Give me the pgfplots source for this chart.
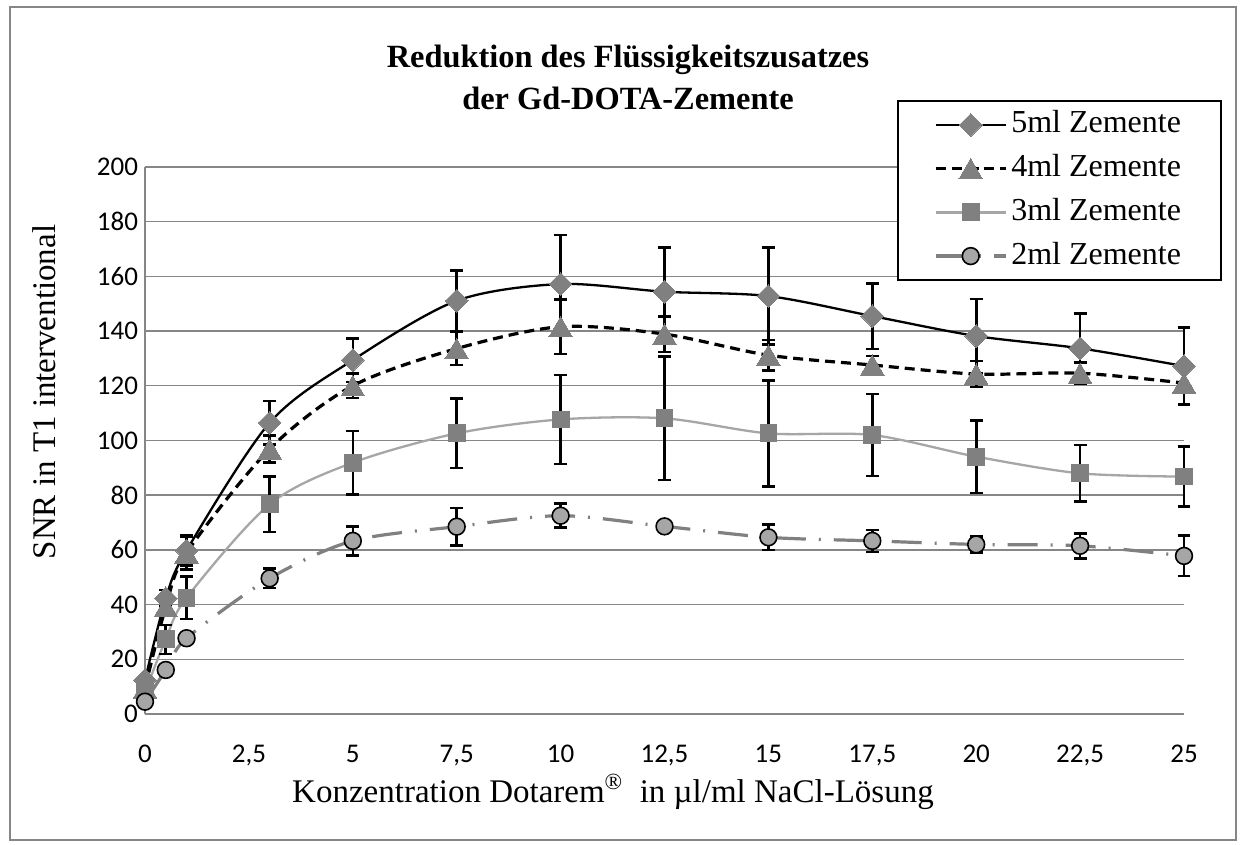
\documentclass[border=0pt]{standalone}
\usepackage{fontspec}
\setmainfont{Liberation Serif}
\newfontfamily\calibri{Carlito}
\usepackage{pgfplots}
\pgfplotsset{compat=1.18}
\usepackage{pgfplotstable}
\definecolor{gridgray}{RGB}{134,134,134}
\definecolor{mgray}{RGB}{128,128,128}
\definecolor{lgray}{RGB}{166,166,166}
\definecolor{cgray}{RGB}{166,166,166}

\pgfplotstableread{
x y e
0 12.4 0
0.5 42.3 3
1 59.8 5.5
3 106.5 8
5 129.4 8
7.5 151.1 11
10 157.2 18
12.5 154.4 16.2
15 152.8 17.8
17.5 145.5 12
20 138.2 13.5
22.5 133.7 12.8
25 127.2 14.2
}\tfive
\pgfplotstableread{
x y e
0 9.5 0
0.5 39.2 2.5
1 58.9 6
3 96.9 5
5 120 4.5
7.5 133.6 6
10 141.6 10
12.5 138.9 6.5
15 131.2 5.5
17.5 127.6 3.3
20 124.3 4.8
22.5 124.6 4
25 121 7.7
}\tfour
\pgfplotstableread{
x y e
0 8 0
0.5 27.3 5.3
1 42.5 7.8
3 76.7 10.1
5 91.9 11.6
7.5 102.6 12.7
10 107.7 16.3
12.5 108.1 22.6
15 102.6 19.4
17.5 102 15
20 94.1 13.3
22.5 88 10.4
25 86.8 11
}\tthree
\pgfplotstableread{
x y e
0 4.5 0
0.5 16.1 1
1 27.7 1.5
3 49.6 3.5
5 63.3 5.3
7.5 68.5 6.8
10 72.5 4.4
12.5 68.6 2
15 64.6 4.7
17.5 63.3 4
20 62 3
22.5 61.5 4.6
25 57.8 7.4
}\ttwo

\begin{document}
\begin{tikzpicture}
\path[fill=white] (-72.5pt,-65.5pt) rectangle (548.5pt,357pt);
\draw[gridgray, line width=0.9pt] (-67.5pt,-63pt) rectangle (545.5pt,353.5pt);
\begin{axis}[
  at={(0pt,0pt)}, anchor=south west,
  scale only axis, width=519.5pt, height=273.5pt,
  xmin=0, xmax=25, ymin=0, ymax=200,
  xtick={0,2.5,5,7.5,10,12.5,15,17.5,20,22.5,25},
  ytick={0,20,40,60,80,100,120,140,160,180,200},
  axis lines=left,
  axis line style={gridgray, line width=0.7pt, -},
  ymajorgrids,
  major grid style={gridgray, line width=0.7pt},
  major tick length=0pt,
  ticklabel style={font=\calibri\fontsize{13.5}{16}\selectfont},
  /pgf/number format/assume math mode=true,
  /pgf/number format/use comma,
  /pgf/number format/fixed,
  xticklabel style={yshift=-12pt},
  clip=false,
  legend style={at={(1.0366,1.1225)}, anchor=north east, draw=black, line width=1pt, fill=white,
    font=\fontsize{16}{19}\selectfont, inner xsep=18pt, inner ysep=3pt, row sep=3.85pt,
    nodes={inner sep=2pt, text height=11pt, text depth=3pt}},
  legend cell align=left,
  legend image code/.code={\draw[mark repeat=2,mark phase=2,#1] plot coordinates {(0pt,0pt) (17.5pt,0pt) (35pt,0pt)};},
  error bars/error bar style={black, line width=1.3pt, solid},
  error bars/error mark options={rotate=90, black, mark size=3.2pt, line width=1.3pt, solid},
]
\addplot[black, line width=1.15pt, smooth, mark=square*, mark size=4pt,
  mark options={rotate=45, fill=mgray, draw=mgray, line width=0pt, solid},
  error bars/.cd, y dir=both, y explicit]
  table[x=x, y=y, y error=e] {\tfive};
\addplot[black, line width=1.6pt, dash pattern=on 5pt off 3pt, smooth, mark=triangle*, mark size=6.8pt,
  mark options={fill=mgray, draw=mgray, line width=0pt, solid, yshift=-1.7pt},
  error bars/.cd, y dir=both, y explicit]
  table[x=x, y=y, y error=e] {\tfour};
\addplot[lgray, line width=1.15pt, smooth, mark=square*, mark size=4.2pt,
  mark options={fill=mgray, draw=mgray, line width=0pt, solid},
  error bars/.cd, y dir=both, y explicit]
  table[x=x, y=y, y error=e] {\tthree};
\addplot[mgray, line width=1.6pt, dash pattern=on 15pt off 6.5pt on 1pt off 6.5pt, smooth, mark=*, mark size=4.2pt,
  mark options={fill=cgray, draw=black, line width=0.8pt, solid},
  error bars/.cd, y dir=both, y explicit]
  table[x=x, y=y, y error=e] {\ttwo};
\legend{5ml Zemente, 4ml Zemente, 3ml Zemente, 2ml Zemente}
\end{axis}
\node[anchor=base, font=\bfseries\fontsize{16.2}{20}\selectfont] at (241.5pt,323pt) {Reduktion des Flüssigkeitszusatzes};
\node[anchor=base, font=\bfseries\fontsize{16.2}{20}\selectfont] at (241.5pt,302pt) {der Gd-DOTA-Zemente};
\node[rotate=90, font=\fontsize{16.5}{20}\selectfont] at (-50.5pt,161pt) {SNR in T1 interventional};
\node[font=\fontsize{16.5}{20}\selectfont] at (234pt,-39pt) {Konzentration Dotarem\textsuperscript{®}\ \ in µl/ml NaCl-Lösung};
\end{tikzpicture}
\end{document}
